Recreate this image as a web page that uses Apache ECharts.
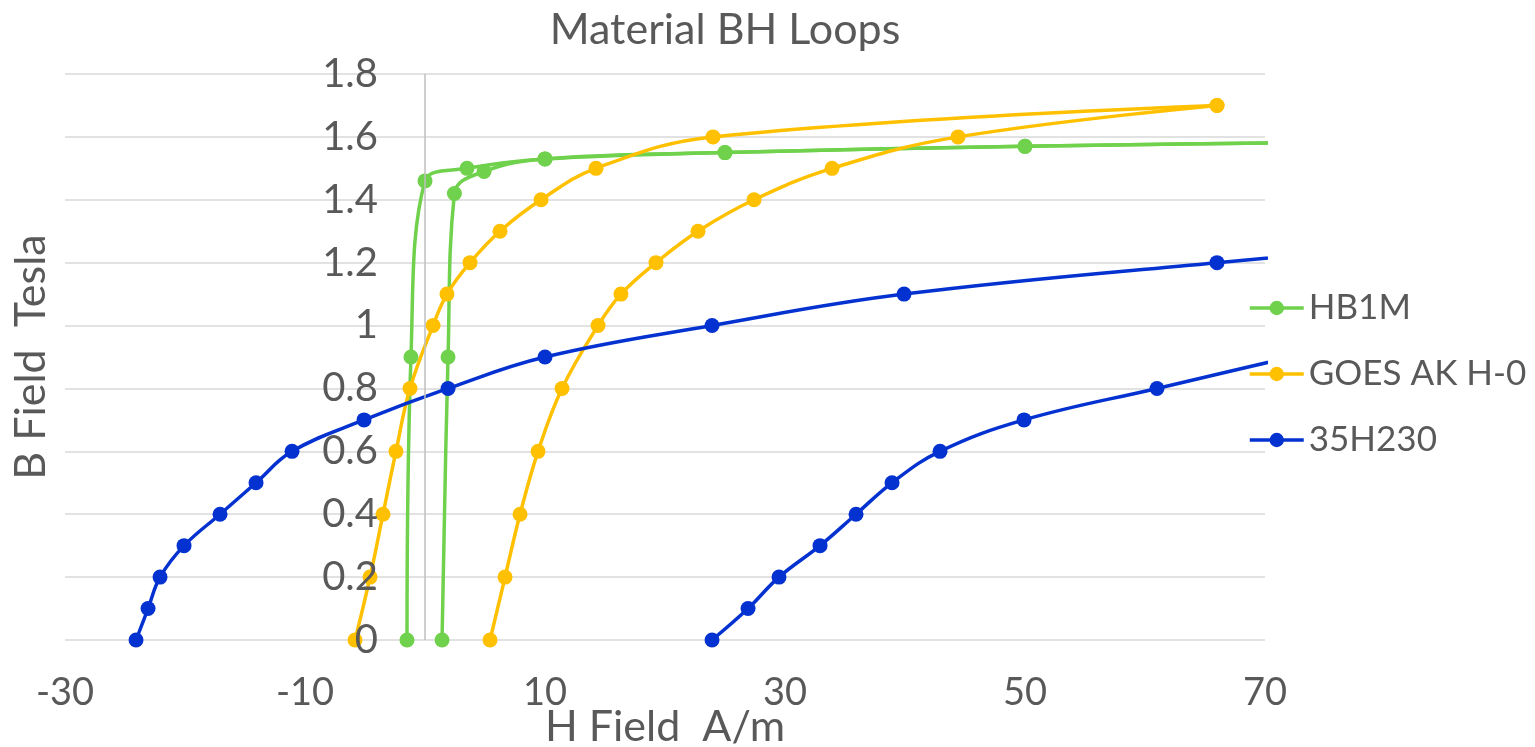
<!DOCTYPE html>
<html>
<head>
<meta charset="utf-8">
<script src="https://cdn.jsdelivr.net/npm/echarts@6/dist/echarts.min.js"></script>
<style>html,body{margin:0;padding:0;background:#fff}#c{width:1535px;height:747px}</style>
</head>
<body>
<div id="c"></div>
<script>
// ---- data (H in A/m, B in Tesla) ----
const seriesNames = ['HB1M', 'GOES AK H-0', '35H230'];
const xMin = -30, xMax = 70, xInterval = 20;
const yMin = 0, yMax = 1.8, yInterval = 0.2;

const hb1mAH = [-1.5, -1.17, 0, 3.5, 10, 25, 50, 90];
const hb1mAB = [0, 0.9, 1.46, 1.5, 1.53, 1.55, 1.57, 1.59];
const hb1mBH = [1.42, 1.92, 2.45, 4.92, 10, 25, 50, 90];
const hb1mBB = [0, 0.9, 1.42, 1.49, 1.53, 1.55, 1.57, 1.59];

const goesAH = [-5.83, -4.58, -3.5, -2.42, -1.25, 0.67, 1.83, 3.75, 6.25, 9.67, 14.25, 24, 66];
const goesAB = [0, 0.2, 0.4, 0.6, 0.8, 1.0, 1.1, 1.2, 1.3, 1.4, 1.5, 1.6, 1.7];
const goesBH = [5.42, 6.67, 7.92, 9.42, 11.42, 14.42, 16.33, 19.25, 22.75, 27.42, 33.92, 44.42, 66];
const goesBB = [0, 0.2, 0.4, 0.6, 0.8, 1.0, 1.1, 1.2, 1.3, 1.4, 1.5, 1.6, 1.7];

const h35AH = [-24.08, -23.08, -22.08, -20.08, -17.08, -14.08, -11.08, -5.08, 1.92, 10, 23.92, 39.92, 66, 90];
const h35AB = [0, 0.1, 0.2, 0.3, 0.4, 0.5, 0.6, 0.7, 0.8, 0.9, 1.0, 1.1, 1.2, 1.28];
const h35BH = [23.92, 26.92, 29.5, 32.92, 35.92, 38.92, 42.92, 49.92, 61, 80];
const h35BB = [0, 0.1, 0.2, 0.3, 0.4, 0.5, 0.6, 0.7, 0.8, 0.97];

const colors = ['#6fd14c', '#ffc000', '#0432d0'];

const FONT = 'Lato';
const TXT = '#595959';

function pairs(h, b) { return h.map((v, i) => [v, b[i]]); }
function mk(name, color, h, b) {
  return {
    name: name, type: 'line', data: pairs(h, b), smooth: 0.4,
    symbol: 'circle', symbolSize: 15, showSymbol: true, clip: true,
    itemStyle: { color: color }, lineStyle: { color: color, width: 3.5 },
    emphasis: { disabled: true }, animation: false, z: 3
  };
}

const series = [
  {
    name: 'zero-line', type: 'line', data: [], z: 1, silent: true,
    markLine: {
      silent: true, symbol: 'none', animation: false,
      label: { show: false },
      lineStyle: { color: '#bfbfbf', width: 1.5, type: 'solid' },
      data: [{ xAxis: 0 }]
    }
  },
  mk(seriesNames[0], colors[0], hb1mAH, hb1mAB),
  mk(seriesNames[0], colors[0], hb1mBH, hb1mBB),
  mk(seriesNames[1], colors[1], goesAH, goesAB),
  mk(seriesNames[1], colors[1], goesBH, goesBB),
  mk(seriesNames[2], colors[2], h35AH, h35AB),
  mk(seriesNames[2], colors[2], h35BH, h35BB)
];

// the value-axis labels sit beside H = 0 (Excel "axis crosses at 0")
const yLabelOffset = -360;

const chart = echarts.init(document.getElementById('c'));
chart.setOption({
  animation: false,
  backgroundColor: '#fff',
  title: {
    text: 'Material BH Loops', left: 720, top: 4, textAlign: 'center',
    textStyle: { fontFamily: FONT, fontSize: 43, fontWeight: 'normal', color: TXT }
  },
  legend: {
    data: seriesNames, orient: 'vertical', left: 1248, top: 288, padding: 0,
    itemWidth: 54, itemHeight: 18, itemGap: 26,
    lineStyle: { width: 3.5 },
    textStyle: { fontFamily: FONT, fontSize: 35, color: TXT, lineHeight: 40 }
  },
  grid: { left: 65, right: 270, top: 74, bottom: 107, outerBoundsMode: 'none' },
  xAxis: {
    type: 'value', min: xMin, max: xMax, interval: xInterval,
    name: 'H Field  A/m', nameLocation: 'middle', nameGap: 66, nameMoveOverlap: false,
    nameTextStyle: { fontFamily: FONT, fontSize: 43, color: TXT },
    axisLine: { show: false, onZero: false },
    axisTick: { show: false },
    splitLine: { show: false },
    axisLabel: { fontFamily: FONT, fontSize: 38, color: TXT, margin: 34 }
  },
  yAxis: [
    {
      type: 'value', min: yMin, max: yMax, interval: yInterval, z: 10,
      position: 'left', offset: yLabelOffset,
      name: 'B Field  Tesla', nameLocation: 'middle', nameGap: 372, nameRotate: 90, nameMoveOverlap: false,
      nameTextStyle: { fontFamily: FONT, fontSize: 43, color: TXT },
      axisLine: { show: false, onZero: false },
      axisTick: { show: false },
      splitLine: { show: false },
      axisLabel: { fontFamily: FONT, fontSize: 40, color: TXT, margin: 47 }
    },
    {
      type: 'value', min: yMin, max: yMax, interval: yInterval, position: 'left',
      axisLine: { show: false, onZero: false },
      axisTick: { show: false },
      axisLabel: { show: false },
      splitLine: { show: true, lineStyle: { color: '#d9d9d9', width: 1.5 } }
    }
  ],
  series: series
});
</script>
</body>
</html>
